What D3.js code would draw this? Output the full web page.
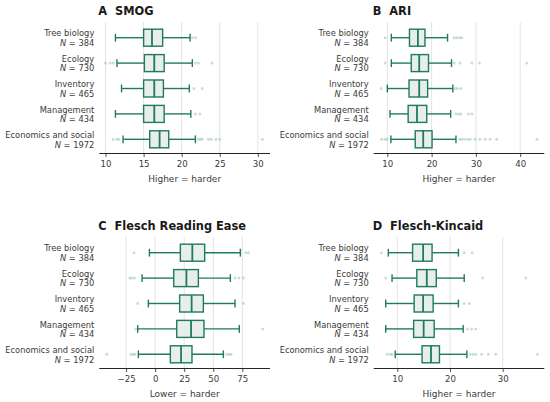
<!DOCTYPE html>
<html>
<head>
<meta charset="utf-8">
<script src="https://cdn.jsdelivr.net/npm/d3@7"></script>
<style>
  body { margin: 0; background: white; }
  text { font-family: "DejaVu Sans", sans-serif; }
</style>
</head>
<body>
<script>
// categories and counts (same for all four panels)
var categories = ['Tree biology', 'Ecology', 'Inventory', 'Management', 'Economics and social']
var counts = [384, 730, 465, 434, 1972]

var panelTitles = ['A  SMOG', 'B  ARI', 'C  Flesch Reading Ease', 'D  Flesch-Kincaid']
var axisLabels = ['Higher = harder', 'Higher = harder', 'Lower = harder', 'Higher = harder']
var tickValues = [[10, 15, 20, 25, 30], [10, 20, 30, 40], [-25, 0, 25, 50, 75], [10, 20, 30]]
var xDomains = [[9.18, 31.6], [6.92, 45.45], [-48, 98.8], [5.52, 37.9]]

// [whisker low, Q1, median, Q3, whisker high] per category
var smogStats = [
    [11.3, 15.0, 16.1, 17.5, 21.1],
    [11.5, 15.1, 16.4, 17.7, 21.4],
    [12.1, 15.0, 16.4, 17.6, 21.0],
    [11.3, 15.0, 16.4, 17.7, 21.2],
    [12.3, 15.8, 17.1, 18.3, 21.8]
]
var smogOutliers = [
    [21.4, 21.8],
    [10.0, 10.6, 11.0, 21.8, 22.2, 24.0],
    [21.6, 22.7],
    [21.8, 22.4],
    [11.0, 11.5, 11.75, 22.2, 22.5, 22.7, 23.5, 23.9, 24.5, 25.0, 30.6]
]

var ariStats = [
    [10.9, 15.0, 16.9, 18.5, 23.6],
    [10.9, 15.4, 17.2, 19.3, 24.5],
    [10.0, 14.9, 17.2, 19.1, 24.8],
    [10.6, 14.7, 16.7, 18.9, 24.3],
    [10.8, 16.3, 18.1, 20.1, 25.5]
]
var ariOutliers = [
    [9.5, 25.1, 25.7, 26.3, 26.8],
    [9.5, 25.1, 26.4, 29.1, 30.8, 41.5],
    [8.6, 25.3, 25.8, 26.6],
    [25.5, 26.1, 26.6, 28.3, 29.1],
    [8.7, 9.5, 10.0, 26.3, 26.8, 27.4, 28.1, 28.7, 29.8, 30.9, 32.1, 33.2, 34.7, 43.8]
]

var freStats = [
    [-4.9, 21.7, 32.0, 42.6, 73.3],
    [-11.2, 16.0, 26.9, 37.2, 64.7],
    [-5.8, 21.1, 31.4, 41.5, 68.7],
    [-15.0, 18.6, 30.9, 42.0, 72.4],
    [-14.4, 13.1, 22.3, 31.7, 58.7]
]
var freOutliers = [
    [-18.1, 77.9, 80.2],
    [-21.8, -20.1, -17.8, 68.7, 72.1, 75.9],
    [-15.0, 75.9],
    [-16.7, 92.5],
    [-41.6, -20.7, -18.7, -17.3, 61.5, 63.8, 65.3]
]

var fkStats = [
    [8.3, 12.9, 14.9, 16.6, 21.6],
    [9.0, 13.7, 15.6, 17.4, 22.7],
    [7.8, 13.2, 14.9, 16.8, 21.6],
    [7.8, 13.1, 15.0, 17.0, 22.5],
    [9.6, 14.7, 16.4, 18.0, 23.2]
]
var fkOutliers = [
    [7.0, 22.7, 24.2],
    [7.8, 26.2, 34.4],
    [22.7, 23.7],
    [23.3, 24.1, 24.9],
    [8.1, 8.7, 9.0, 23.8, 24.4, 24.9, 26.0, 27.3, 28.7, 36.6]
]

var allStats = [smogStats, ariStats, freStats, fkStats]
var allOutliers = [smogOutliers, ariOutliers, freOutliers, fkOutliers]

var boxColor = '#1f7a5f'
var boxFill = '#e7eeeb'
var textColor = '#3a3a3a'

var root = d3.select('body').append('svg')
    .attr('width', 550)
    .attr('height', 402)

// panel frames: left/right of x axis, y of bottom axis line
var panelLeft = [99.3, 373.7, 99.3, 373.7]
var panelRight = [270, 544.3, 270, 544.3]
var panelAxisY = [153.5, 153.5, 368.5, 368.5]

for (let p = 0; p < 4; p++) {
    var axisY = panelAxisY[p]

    var xScale = d3.scaleLinear()
        .domain(xDomains[p])
        .range([panelLeft[p], panelRight[p]])

    var yScale = d3.scaleBand()
        .domain(categories)
        .range([axisY - 128.5, axisY - 1.5])

    var g = root.append('g').attr('id', 'panel-' + p)

    // vertical grid
    g.append('g').selectAll('line')
        .data(tickValues[p])
        .enter()
        .append('line')
        .attr('x1', d => xScale(d))
        .attr('x2', d => xScale(d))
        .attr('y1', axisY - 131.5)
        .attr('y2', axisY)
        .attr('stroke', '#dcdcdc')
        .attr('stroke-width', 0.8)

    // bottom axis
    var xAxis = g.append('g')
        .attr('transform', 'translate(0,' + axisY + ')')
        .call(d3.axisBottom(xScale)
            .tickValues(tickValues[p])
            .tickSize(3.5)
            .tickPadding(3.5)
            .tickFormat(d => d < 0 ? '\u2212' + Math.abs(d) : d))
    xAxis.select('.domain')
        .attr('d', 'M' + panelLeft[p] + ',0H' + panelRight[p])
        .attr('stroke', '#262626')
        .attr('stroke-width', 1)
    xAxis.selectAll('.tick line').attr('stroke', '#262626').attr('stroke-width', 0.8)
    xAxis.selectAll('.tick text')
        .attr('fill', textColor)
        .attr('font-size', '8.6px')
        .attr('font-family', 'DejaVu Sans')

    g.append('text')
        .attr('x', (panelLeft[p] + panelRight[p]) / 2)
        .attr('y', axisY + 28)
        .attr('text-anchor', 'middle')
        .attr('fill', textColor)
        .attr('font-size', '9px')
        .text(axisLabels[p])

    // title (keep the double space)
    g.append('text')
        .attr('x', panelLeft[p] - 1)
        .attr('y', axisY - 138.7)
        .attr('font-weight', 'bold')
        .attr('font-size', '11.4px')
        .attr('fill', '#1a1a1a')
        .style('white-space', 'pre')
        .text(panelTitles[p])

    // category labels
    for (let i = 0; i < categories.length; i++) {
        var cy = yScale(categories[i]) + yScale.bandwidth() / 2
        var lbl = g.append('text')
            .attr('text-anchor', 'end')
            .attr('fill', textColor)
            .attr('font-size', '8.3px')
        lbl.append('tspan')
            .attr('x', panelLeft[p] - 5)
            .attr('y', cy - 1.3)
            .text(categories[i])
        var t2 = lbl.append('tspan')
            .attr('x', panelLeft[p] - 5)
            .attr('y', cy + 8.3)
        t2.append('tspan').attr('font-style', 'italic').text('N')
        t2.append('tspan').text(' = ' + counts[i])
    }

    // outliers
    for (let i = 0; i < categories.length; i++) {
        var cy = yScale(categories[i]) + yScale.bandwidth() / 2
        g.append('g').selectAll('circle')
            .data(allOutliers[p][i])
            .enter()
            .append('circle')
            .attr('cx', d => xScale(d))
            .attr('cy', cy)
            .attr('r', 1.5)
            .attr('fill', '#9fc2b5')
            .attr('fill-opacity', 0.55)
    }

    // boxes
    var boxH = yScale.bandwidth() * 0.67
    var capH = boxH * 0.46
    for (let i = 0; i < categories.length; i++) {
        var s = allStats[p][i]
        var cy = yScale(categories[i]) + yScale.bandwidth() / 2
        var bg = g.append('g')
            .attr('stroke', boxColor)
            .attr('stroke-width', 1.4)

        bg.append('line')
            .attr('x1', xScale(s[0])).attr('x2', xScale(s[1]))
            .attr('y1', cy).attr('y2', cy)
        bg.append('line')
            .attr('x1', xScale(s[3])).attr('x2', xScale(s[4]))
            .attr('y1', cy).attr('y2', cy)
        bg.append('line')
            .attr('x1', xScale(s[0])).attr('x2', xScale(s[0]))
            .attr('y1', cy - capH / 2).attr('y2', cy + capH / 2)
        bg.append('line')
            .attr('x1', xScale(s[4])).attr('x2', xScale(s[4]))
            .attr('y1', cy - capH / 2).attr('y2', cy + capH / 2)
        bg.append('rect')
            .attr('x', xScale(s[1]))
            .attr('y', cy - boxH / 2)
            .attr('width', xScale(s[3]) - xScale(s[1]))
            .attr('height', boxH)
            .attr('fill', boxFill)
        bg.append('line')
            .attr('x1', xScale(s[2])).attr('x2', xScale(s[2]))
            .attr('y1', cy - boxH / 2).attr('y2', cy + boxH / 2)
            .attr('stroke-width', 1.8)
    }
}
</script>
</body>
</html>
